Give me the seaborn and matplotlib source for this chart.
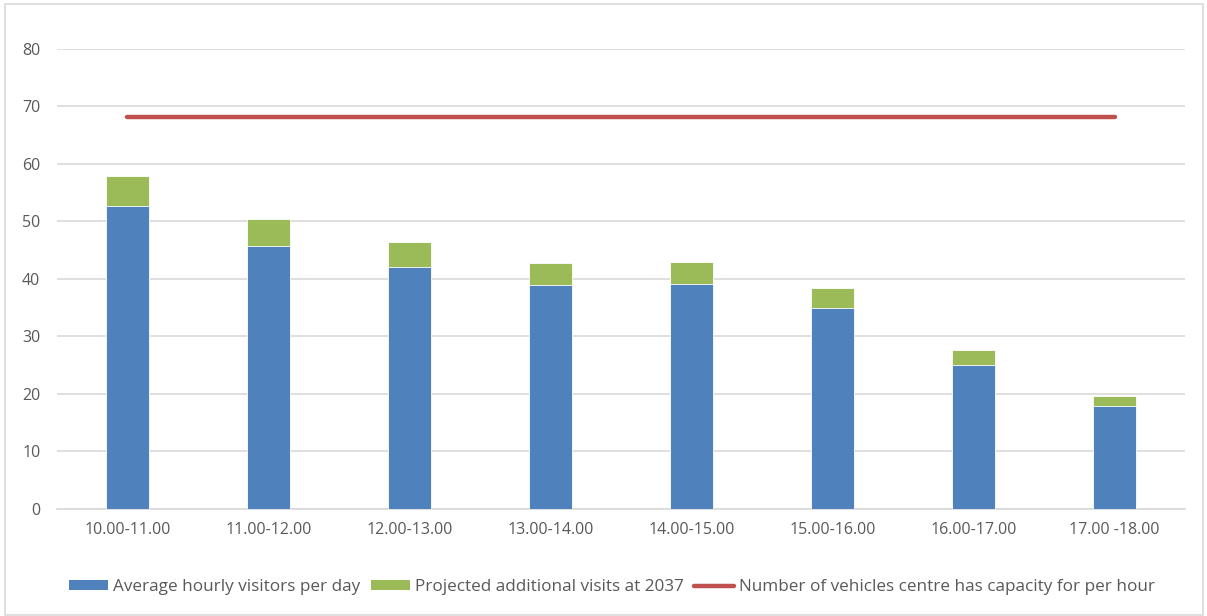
import matplotlib
matplotlib.use("Agg")
import matplotlib.pyplot as plt
import matplotlib.patches as mpatches
import matplotlib.lines as mlines
import seaborn as sns
import pandas as pd

hours = ["10.00-11.00", "11.00-12.00", "12.00-13.00", "13.00-14.00",
         "14.00-15.00", "15.00-16.00", "16.00-17.00", "17.00 -18.00"]
avg_visitors = [52.7, 45.7, 42.1, 39.0, 39.1, 35.0, 25.0, 17.9]
extra_2037 = [5.2, 4.7, 4.3, 3.8, 3.9, 3.5, 2.7, 1.75]
capacity = [68.2] * len(hours)

labels = ["Average hourly visitors per day",
          "Projected additional visits at 2037",
          "Number of vehicles centre has capacity for per hour"]

blue, green, red = "#4F81BD", "#9BBB59", "#C0504D"
grid_col = "#D9D9D9"
text_col = "#595959"

df = pd.DataFrame({
    "hour": hours,
    "avg": avg_visitors,
    "total": [a + b for a, b in zip(avg_visitors, extra_2037)],
})

sns.set_theme(style="white")
plt.rcParams["font.family"] = ["Open Sans", "DejaVu Sans"]

fig = plt.figure(figsize=(12.07, 6.16), dpi=100)
ax = fig.add_axes([0.0472, 0.1737, 0.9346, 0.7468])

# stacked bars: total (green) behind, base (blue) in front
sns.barplot(data=df, x="hour", y="total", color=green, width=0.31,
            saturation=1, ax=ax, edgecolor="white", linewidth=0.6, zorder=2)
sns.barplot(data=df, x="hour", y="avg", color=blue, width=0.31,
            saturation=1, ax=ax, edgecolor="white", linewidth=0.6, zorder=3)
ax.plot(hours, capacity, color=red, linewidth=3.2, solid_capstyle="round", zorder=4)

ax.set_ylim(0, 80)
ax.set_xlim(-0.5, len(hours) - 0.5)
ax.set_yticks(range(0, 81, 10))
ax.yaxis.grid(True, color=grid_col, linewidth=1.2)
ax.set_axisbelow(True)
ax.set_xlabel("")
ax.set_ylabel("")
for s in ["top", "right", "left"]:
    ax.spines[s].set_visible(False)
ax.spines["bottom"].set_color(grid_col)
ax.spines["bottom"].set_linewidth(1.2)
ax.tick_params(axis="both", length=0, colors=text_col, labelsize=11.5)
ax.tick_params(axis="x", pad=9)
ax.tick_params(axis="y", pad=12)

handles = [
    mpatches.Patch(facecolor=blue, edgecolor="none"),
    mpatches.Patch(facecolor=green, edgecolor="none"),
    mlines.Line2D([], [], color=red, linewidth=3.2, solid_capstyle="round"),
]
leg = fig.legend(handles, labels, loc="center", bbox_to_anchor=(0.507, 0.047),
                 ncol=3, frameon=False, fontsize=12.3, handlelength=2.3,
                 handleheight=0.5, handletextpad=0.3, columnspacing=0.6,
                 labelcolor=text_col)

# light chart border
fig.patches.append(mpatches.Rectangle((0.004, 0.002), 0.993, 0.992,
                                      transform=fig.transFigure, fill=False,
                                      edgecolor="#D9D9D9", linewidth=1.2))

fig.savefig("out.png", dpi=100, facecolor="white")
